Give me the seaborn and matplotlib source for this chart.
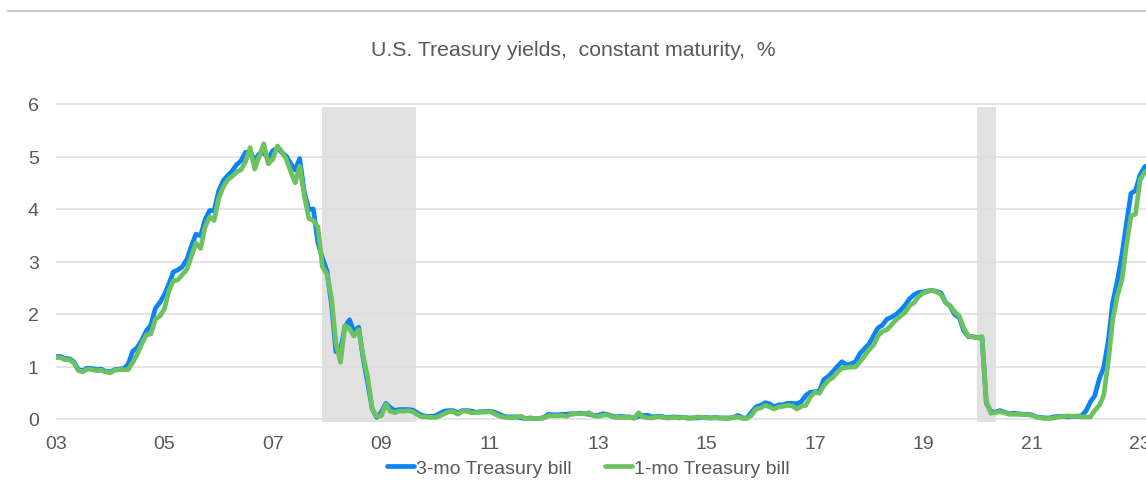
import matplotlib
matplotlib.use("Agg")
import matplotlib.pyplot as plt
from matplotlib.lines import Line2D
import seaborn as sns
import pandas as pd

# monthly averages, Jan 2003 .. Mar 2023 (one row per year)
bill_3mo = [
    1.19, 1.19, 1.15, 1.15, 1.09, 0.94, 0.92, 0.97, 0.96, 0.94, 0.95, 0.91,
    0.90, 0.94, 0.95, 0.96, 1.04, 1.29, 1.36, 1.50, 1.68, 1.79, 2.11, 2.22,
    2.37, 2.58, 2.80, 2.84, 2.90, 3.04, 3.29, 3.52, 3.49, 3.79, 3.97, 3.97,
    4.34, 4.54, 4.63, 4.72, 4.84, 4.92, 5.08, 5.09, 4.93, 5.05, 5.07, 4.97,
    5.11, 5.16, 5.08, 5.01, 4.87, 4.74, 4.96, 4.32, 3.99, 4.00, 3.35, 3.07,
    2.82, 2.17, 1.28, 1.31, 1.76, 1.89, 1.66, 1.75, 1.15, 0.69, 0.19, 0.03,
    0.13, 0.30, 0.22, 0.16, 0.18, 0.18, 0.18, 0.17, 0.12, 0.07, 0.05, 0.05,
    0.06, 0.11, 0.15, 0.16, 0.16, 0.12, 0.16, 0.16, 0.15, 0.13, 0.14, 0.14,
    0.15, 0.13, 0.10, 0.06, 0.04, 0.04, 0.04, 0.02, 0.01, 0.02, 0.01, 0.01,
    0.03, 0.09, 0.08, 0.08, 0.09, 0.09, 0.10, 0.10, 0.11, 0.10, 0.09, 0.07,
    0.07, 0.10, 0.09, 0.06, 0.04, 0.05, 0.04, 0.04, 0.02, 0.05, 0.07, 0.07,
    0.04, 0.05, 0.05, 0.03, 0.03, 0.04, 0.03, 0.03, 0.02, 0.02, 0.02, 0.03,
    0.03, 0.02, 0.03, 0.02, 0.02, 0.02, 0.03, 0.07, 0.02, 0.02, 0.13, 0.23,
    0.26, 0.31, 0.29, 0.23, 0.27, 0.27, 0.30, 0.30, 0.29, 0.33, 0.45, 0.51,
    0.52, 0.53, 0.75, 0.81, 0.90, 1.00, 1.09, 1.03, 1.05, 1.09, 1.25, 1.34,
    1.43, 1.59, 1.73, 1.79, 1.90, 1.94, 1.99, 2.07, 2.17, 2.29, 2.37, 2.41,
    2.42, 2.44, 2.45, 2.43, 2.40, 2.22, 2.15, 1.99, 1.93, 1.68, 1.57, 1.57,
    1.55, 1.54, 0.30, 0.14, 0.13, 0.16, 0.13, 0.10, 0.11, 0.10, 0.09, 0.09,
    0.08, 0.04, 0.03, 0.02, 0.02, 0.04, 0.05, 0.05, 0.04, 0.05, 0.05, 0.06,
    0.15, 0.33, 0.44, 0.76, 0.98, 1.49, 2.23, 2.63, 3.13, 3.72, 4.30, 4.35,
    4.65, 4.80, 4.85,
]
bill_1mo = [
    1.17, 1.17, 1.13, 1.13, 1.07, 0.92, 0.90, 0.95, 0.94, 0.92, 0.93, 0.90,
    0.88, 0.93, 0.94, 0.94, 0.94, 1.08, 1.23, 1.43, 1.60, 1.62, 1.90, 1.96,
    2.10, 2.45, 2.63, 2.65, 2.75, 2.85, 3.10, 3.35, 3.25, 3.65, 3.85, 3.78,
    4.20, 4.42, 4.55, 4.62, 4.70, 4.75, 4.90, 5.17, 4.76, 5.00, 5.24, 4.86,
    4.95, 5.20, 5.10, 4.95, 4.72, 4.50, 4.82, 4.25, 3.82, 3.78, 3.66, 2.90,
    2.75, 2.30, 1.45, 1.08, 1.78, 1.72, 1.58, 1.70, 1.20, 0.80, 0.19, 0.05,
    0.06, 0.28, 0.15, 0.12, 0.15, 0.15, 0.16, 0.14, 0.08, 0.04, 0.04, 0.03,
    0.03, 0.06, 0.10, 0.14, 0.14, 0.09, 0.15, 0.15, 0.12, 0.12, 0.13, 0.13,
    0.14, 0.10, 0.06, 0.04, 0.03, 0.02, 0.04, 0.05, 0.01, 0.01, 0.01, 0.01,
    0.02, 0.06, 0.06, 0.06, 0.07, 0.05, 0.09, 0.10, 0.10, 0.10, 0.12, 0.06,
    0.05, 0.07, 0.08, 0.05, 0.03, 0.03, 0.03, 0.04, 0.01, 0.12, 0.04, 0.02,
    0.02, 0.04, 0.04, 0.02, 0.02, 0.03, 0.02, 0.03, 0.01, 0.02, 0.04, 0.03,
    0.02, 0.02, 0.02, 0.02, 0.01, 0.01, 0.03, 0.04, 0.01, 0.01, 0.07, 0.19,
    0.21, 0.26, 0.23, 0.19, 0.23, 0.24, 0.26, 0.25, 0.19, 0.24, 0.26, 0.42,
    0.51, 0.49, 0.63, 0.73, 0.79, 0.89, 0.97, 0.98, 0.99, 0.99, 1.09, 1.20,
    1.32, 1.41, 1.58, 1.67, 1.70, 1.79, 1.89, 1.96, 2.03, 2.16, 2.22, 2.33,
    2.40, 2.43, 2.45, 2.42, 2.37, 2.21, 2.16, 2.04, 1.96, 1.73, 1.58, 1.56,
    1.55, 1.57, 0.33, 0.11, 0.12, 0.14, 0.12, 0.09, 0.09, 0.09, 0.09, 0.08,
    0.07, 0.04, 0.02, 0.01, 0.01, 0.02, 0.04, 0.05, 0.06, 0.05, 0.06, 0.04,
    0.04, 0.04, 0.16, 0.26, 0.45, 1.10, 1.90, 2.35, 2.65, 3.30, 3.87, 3.90,
    4.55, 4.70, 4.75,
]
series_names = ["3-mo Treasury bill", "1-mo Treasury bill"]
colors = ["#0a84f5", "#6cc261"]
recessions = [("2007-11-29", "2009-08-22"), ("2019-12-28", "2020-05-05")]
tick_years = list(range(2003, 2024, 2))
tick_labels = ["%02d" % (y % 100) for y in tick_years]

dates = pd.date_range("2003-01-01", periods=len(bill_3mo), freq="MS")
df = pd.concat([
    pd.DataFrame({"date": dates, "yield": bill_3mo, "series": series_names[0]}),
    pd.DataFrame({"date": dates, "yield": bill_1mo, "series": series_names[1]}),
])

sns.set_theme(style="white")
plt.rcParams["font.family"] = ["Liberation Sans", "DejaVu Sans"]
txt = "#595959"

W, H = 1146, 481
fig = plt.figure(figsize=(W / 100, H / 100), dpi=100)
# y: 0 at 420px, 6 at 105px; x: 2003 at 56px
ax = fig.add_axes([56 / W, 1 - 425.25 / H, 1 - 56 / W, (425.25 - 99.75) / H])

for s, e in recessions:
    ax.fill_between([pd.Timestamp(s), pd.Timestamp(e)], -0.06, 5.94,
                    color="#e1e1e1", lw=0, zorder=0)

sns.lineplot(data=df, x="date", y="yield", hue="series", hue_order=series_names,
             palette=colors, linewidth=3.4, ax=ax, zorder=3)

ax.set_ylim(-0.1, 6.1)
ax.set_xlim(pd.Timestamp("2003-01-01"), pd.Timestamp("2023-02-10"))
ax.set_yticks(range(0, 7))
ax.set_xticks([pd.Timestamp(f"{y}-01-01") for y in tick_years])
ax.set_xticklabels(tick_labels)
ax.yaxis.grid(True, color="#dedede", lw=1.1, zorder=1)
ax.xaxis.grid(False)
ax.set_axisbelow(True)
for sp in ax.spines.values():
    sp.set_visible(False)
ax.tick_params(axis="both", length=0, labelsize=14, labelcolor=txt)
ax.tick_params(axis="y", pad=12.5)
ax.tick_params(axis="x", pad=7.5)
ax.set_xlabel("")
ax.set_ylabel("")

handles, labels = ax.get_legend_handles_labels()
for h in handles:
    h.set_linewidth(3.4)
ax.legend(handles, labels, loc="center", bbox_to_anchor=(588 / W, 1 - 469 / H),
          bbox_transform=fig.transFigure, ncol=2, frameon=False, fontsize=14,
          handlelength=1.4, handletextpad=0.1, columnspacing=1.7, labelcolor=txt)

fig.text(0.5, 1 - 50 / H, "U.S. Treasury yields,  constant maturity,  %",
         ha="center", va="center", fontsize=15.3, color=txt)
fig.add_artist(Line2D([8 / W, 1], [1 - 12 / H, 1 - 12 / H], color="#c8c8c8", lw=1.5))

fig.savefig("out.png", dpi=100)
